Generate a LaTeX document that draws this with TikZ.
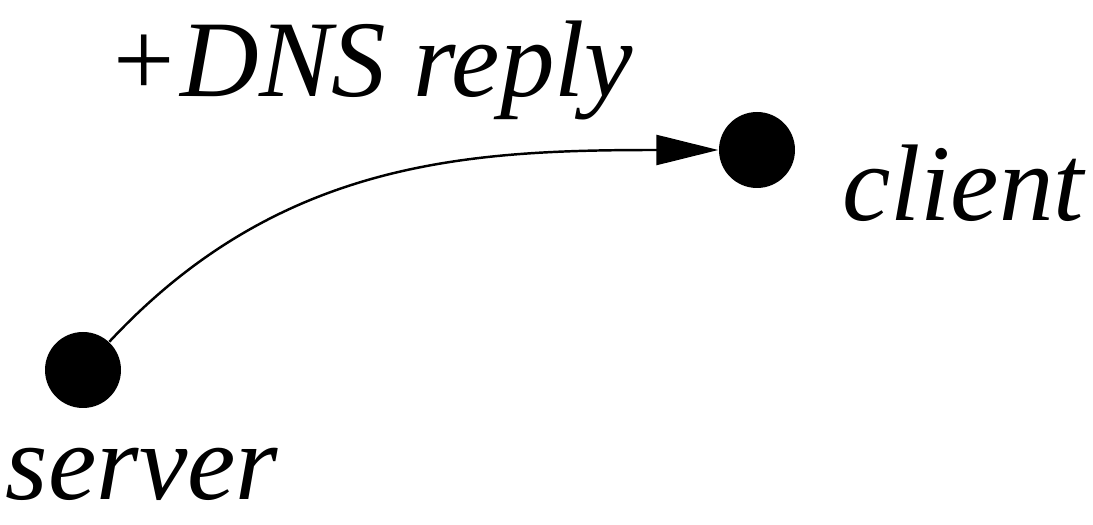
\documentclass[tikz,border=0pt]{standalone}
\usepackage{fontspec}
\setmainfont{Liberation Serif}
\usetikzlibrary{arrows.meta}
\tikzset{
  host/.style={circle,fill=black,inner sep=0pt,minimum size=0.76cm},
  hostlabel/.style={font=\itshape\fontsize{31}{34}\selectfont,inner sep=0pt}
}
\begin{document}
\begin{tikzpicture}
\useasboundingbox (0,0) rectangle (10.93,5.25);

\node[host] (server) at (0.83,1.55) {};
\node[host] (client) at (7.57,3.75) {};

\node[hostlabel] (serverlabel) at (1.42,0.51) {server};
\node[hostlabel] (clientlabel) at (9.63,3.42) {client};
\node[hostlabel] (replylabel) at (3.70,4.55) {+DNS reply};

\draw[line width=0.7pt,-{Triangle[length=0.62cm,width=0.3cm]}] (server) to[out=47,in=180] (client);
\end{tikzpicture}
\end{document}
